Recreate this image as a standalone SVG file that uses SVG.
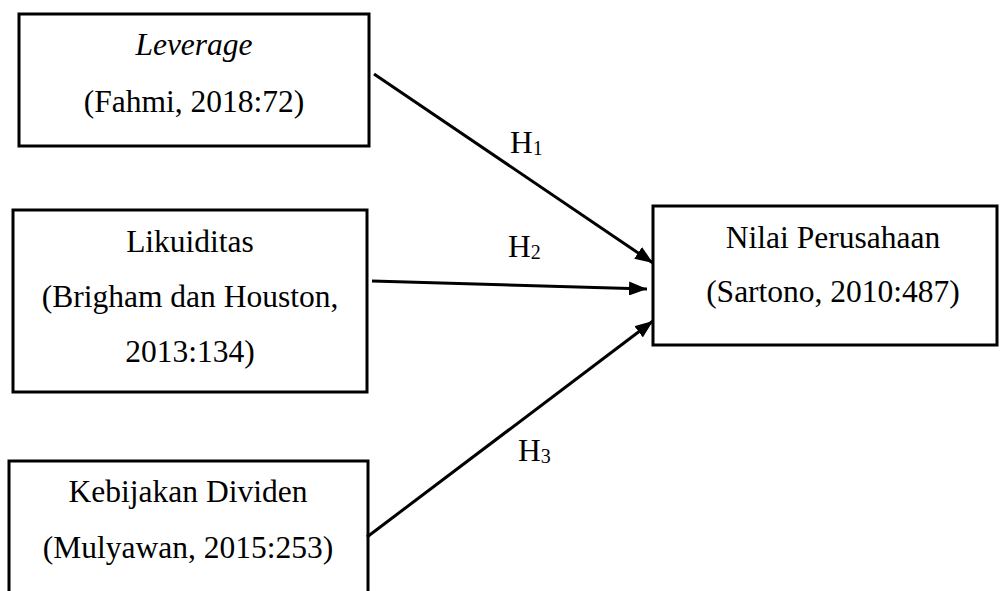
<svg xmlns="http://www.w3.org/2000/svg" width="1000" height="591" viewBox="0 0 1000 591">
<style>
.box{fill:#fff;stroke:#000;stroke-width:3}
.t{font-family:"Liberation Serif","Times New Roman",serif;font-size:31.5px;fill:#000;text-anchor:middle}
.h{text-anchor:start}
.c{stroke:#000;stroke-width:3;fill:none}
.sub{font-size:20px}
</style>
<defs>
<marker id="a" viewBox="0 0 10 10" refX="10" refY="5" markerWidth="18" markerHeight="14" markerUnits="userSpaceOnUse" orient="auto" preserveAspectRatio="none">
<path d="M0,0 L10,5 L0,10 z" fill="#000"/>
</marker>
</defs>
<rect width="1000" height="591" fill="#fff"/>
<g id="n1">
<rect class="box" x="19" y="14" width="350" height="132"/>
<text class="t" x="194" y="55" font-style="italic">Leverage</text>
<text class="t" x="194" y="112">(Fahmi, 2018:72)</text>
</g>
<g id="n2">
<rect class="box" x="13" y="210" width="354" height="182"/>
<text class="t" x="190" y="252">Likuiditas</text>
<text class="t" x="190" y="307">(Brigham dan Houston,</text>
<text class="t" x="190" y="362">2013:134)</text>
</g>
<g id="n3">
<rect class="box" x="9" y="461" width="359" height="140"/>
<text class="t" x="188" y="502">Kebijakan Dividen</text>
<text class="t" x="188" y="558">(Mulyawan, 2015:253)</text>
</g>
<g id="n4">
<rect class="box" x="653" y="206" width="344" height="139"/>
<text class="t" x="833" y="248">Nilai Perusahaan</text>
<text class="t" x="833" y="302">(Sartono, 2010:487)</text>
</g>
<g id="connectors">
<line class="c" x1="374" y1="74" x2="653" y2="263" marker-end="url(#a)"/>
<line class="c" x1="372" y1="281" x2="647" y2="289" marker-end="url(#a)"/>
<line class="c" x1="367" y1="537" x2="653" y2="321" marker-end="url(#a)"/>
<text class="t h" x="510" y="153">H<tspan class="sub" dy="2">1</tspan></text>
<text class="t h" x="508" y="257">H<tspan class="sub" dy="2">2</tspan></text>
<text class="t h" x="518" y="461">H<tspan class="sub" dy="2">3</tspan></text>
</g>
</svg>
